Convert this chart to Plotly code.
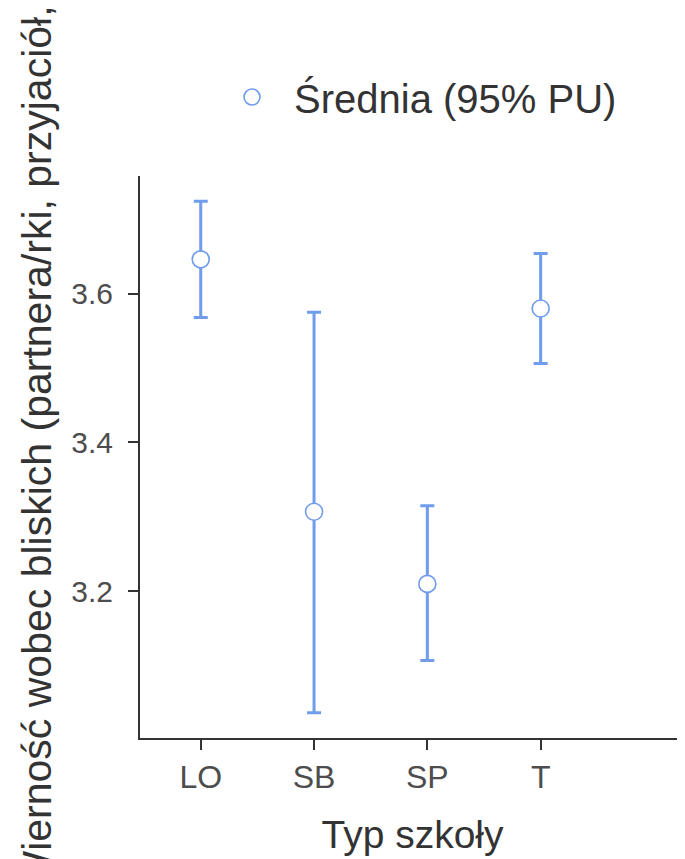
import plotly.graph_objects as go

categories = ["LO", "SB", "SP", "T"]
means = [3.646, 3.307, 3.210, 3.580]
upper = [3.724, 3.575, 3.315, 3.654]
lower = [3.568, 3.037, 3.107, 3.506]
y_ticks = [3.2, 3.4, 3.6]
series_name = "Średnia (95% PU)"
x_title = "Typ szkoły"
y_title = "Wierność wobec bliskich (partnera/rki, przyjaciół, rodziny)"

err_plus = [u - m for u, m in zip(upper, means)]
err_minus = [m - l for m, l in zip(means, lower)]

blue = "#6f9ceb"
axis_col = "#333333"
tick_col = "#4d4d4d"
font_family = "Liberation Sans, Arial, sans-serif"

# page body has an 8px margin; positions below are in page pixels
OFF = 8
W, H = 685, 859
L, T = 140 - OFF, 176 - OFF
R = W - (685 - OFF)
B = H - (738 - OFF)
PW = W - L - R
PH = H - T - B


def px_x(p):
    return (p - OFF - L) / PW


def px_y(p):
    return (H - B - (p - OFF)) / PH


fig = go.Figure()
fig.add_trace(go.Scatter(
    x=list(range(len(categories))), y=means, mode="markers", name=series_name,
    marker=dict(symbol="circle", size=17, color="white", line=dict(color=blue, width=1.6)),
    error_y=dict(type="data", symmetric=False, array=err_plus, arrayminus=err_minus,
                 color=blue, thickness=3, width=7),
    showlegend=True,
))

fig.update_layout(
    width=W, height=H,
    margin=dict(l=L, r=R, t=T, b=B, pad=0),
    paper_bgcolor="white", plot_bgcolor="white",
    font=dict(family=font_family, color=axis_col),
    showlegend=True,
    legend=dict(orientation="h", x=px_x(210), xanchor="left", y=px_y(97), yanchor="middle",
                font=dict(size=40, color=axis_col), itemwidth=74, bgcolor="rgba(0,0,0,0)"),
    xaxis=dict(range=[-0.536, 4.274], tickmode="array", tickvals=list(range(len(categories))),
               ticktext=categories, showgrid=False, zeroline=False, showline=True,
               linecolor=axis_col, linewidth=2, ticks="outside", ticklen=10, tickwidth=2,
               tickcolor=axis_col, tickfont=dict(size=32, color=tick_col), ticklabelstandoff=0,
               title=dict(text=x_title, font=dict(size=39, color=axis_col), standoff=26)),
    yaxis=dict(range=[3.003, 3.758], tickmode="array", tickvals=y_ticks,
               ticktext=[f"{v:.1f}" for v in y_ticks], showgrid=False, zeroline=False,
               showline=True, linecolor=axis_col, linewidth=2, ticks="outside", ticklen=10,
               tickwidth=2, tickcolor=axis_col, tickfont=dict(size=30, color=tick_col),
               ticklabelstandoff=9),
    annotations=[dict(text=y_title, textangle=-90, xref="paper", yref="paper",
                      x=px_x(36), y=px_y(892), xanchor="center", yanchor="bottom",
                      showarrow=False, font=dict(size=41, color=axis_col))],
)

fig.write_html("out.html")
